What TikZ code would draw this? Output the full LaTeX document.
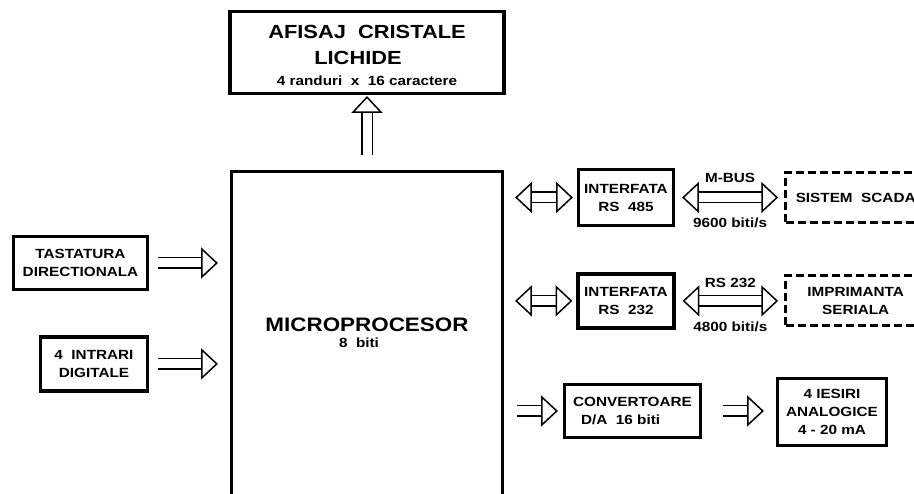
\documentclass[tikz,border=0pt]{standalone}
\usepackage{fontspec}
\setmainfont[FakeStretch=1.15]{Liberation Sans}
\usetikzlibrary{positioning,calc,decorations.markings}

\tikzset{
  blk/.style={rectangle, draw, line width=3.4pt, align=center, inner sep=1pt,
    font=\bfseries\fontsize{13.3}{18}\selectfont},
  dblk/.style={blk, dash pattern=on 8pt off 4pt},
  lbl/.style={font=\bfseries\fontsize{13.3}{16}\selectfont, inner sep=0pt},
  head/.style={line width=1.5pt, fill=white, line join=miter, shorten >=0pt, shorten <=0pt},
  fat/.style={double, double distance=9pt, line width=1.5pt, shorten >=13pt,
    postaction={decorate, decoration={markings, mark=at position 1 with
      {\draw[head] (0pt,0pt) -- (-15pt,14pt) -- (-15pt,-14pt) -- cycle;}}}},
  fatboth/.style={fat, shorten <=13pt,
    postaction={decorate, decoration={markings, mark=at position 0 with
      {\draw[head] (0pt,0pt) -- (15pt,14pt) -- (15pt,-14pt) -- cycle;}}}}
}

\begin{document}
\begin{tikzpicture}[x=1pt, y=-1pt]
\useasboundingbox (0,0) rectangle (914,494);

% afisaj si microprocesor
\node[blk, minimum width=274pt, minimum height=82pt, font=\bfseries\fontsize{19}{26}\selectfont] (lcd) at (367,52.5)
  {\rule{0pt}{20pt}AFISAJ~~CRISTALE\\LICHIDE\hspace{18pt}\mbox{}\\[-5pt]{\fontsize{13.3}{16}\selectfont 4 randuri~~x~~16 caractere}};
\node[blk, minimum width=271pt, minimum height=345pt] (micro) at (367,344) {};
\node[font=\bfseries\fontsize{19.5}{26}\selectfont, align=center] (mptxt) at ([yshift=11pt]micro.center)
  {MICROPROCESOR\\[-10pt]{\fontsize{13.3}{16}\selectfont 8~~biti\hspace{16pt}\mbox{}}};

% intrari
\node[blk, minimum width=134pt, minimum height=53pt] (tast) at (80.5,263) {TASTATURA\\DIRECTIONALA};
\node[blk, minimum width=107pt, minimum height=54pt, below left=44pt and 0pt of tast.south east] (dig) {4~~INTRARI\\DIGITALE};

% interfete seriale
\node[blk, minimum width=95pt, minimum height=56pt] (rs485) at (626,197.5) {INTERFATA\\RS~~485};
\node[dblk, minimum width=140pt, minimum height=50pt, anchor=west] (scada) at (784,197.5) {SISTEM~~SCADA};
\node[blk, minimum width=96pt, minimum height=54pt, below=45pt of rs485] (rs232) {INTERFATA\\RS~~232};
\node[dblk, minimum width=140pt, minimum height=50pt, anchor=west] (prn) at (784,300.5) {IMPRIMANTA\\SERIALA};

% iesiri analogice
\node[blk, minimum width=136pt, minimum height=53pt, align=left] (conv) at (632.5,411) {CONVERTOARE\\\hspace*{8pt}D/A~~16 biti};
\node[blk, minimum width=109pt, minimum height=67pt] (aout) at (832,412) {4 IESIRI\\ANALOGICE\\4 - 20 mA};

\draw[fat] ([yshift=15pt]micro.north) -- ([yshift=-2pt]lcd.south);
\draw[fat] ($(tast.east)+(9pt,0)$) -- ($(tast.east -| micro.west)+(-13pt,0)$);
\draw[fat] ($(dig.east)+(9pt,0)$) -- ($(dig.east -| micro.west)+(-13pt,0)$);
\draw[fatboth] ($(rs485.west -| micro.east)+(12pt,0)$) -- ($(rs485.west)+(-5pt,0)$);
\draw[fatboth] ($(rs485.east)+(8pt,0)$) -- node[lbl, yshift=20pt] (mbus) {M-BUS}
  node[lbl, yshift=-25pt] (baud1) {9600 biti/s} ($(rs485.east -| scada.west)+(-7pt,0)$);
\draw[fatboth] ($(rs232.west -| micro.east)+(12pt,0)$) -- ($(rs232.west)+(-5pt,0)$);
\draw[fatboth] ($(rs232.east)+(8pt,0)$) -- node[lbl, yshift=18pt] (rsl) {RS 232}
  node[lbl, yshift=-26pt] (baud2) {4800 biti/s} ($(rs232.east -| prn.west)+(-7pt,0)$);
\draw[fat] ($(conv.west -| micro.east)+(13pt,0)$) -- ($(conv.west)+(-6pt,0)$);
\draw[fat] ($(conv.east)+(21pt,0)$) -- ($(conv.east -| aout.west)+(-13pt,0)$);
\end{tikzpicture}
\end{document}
